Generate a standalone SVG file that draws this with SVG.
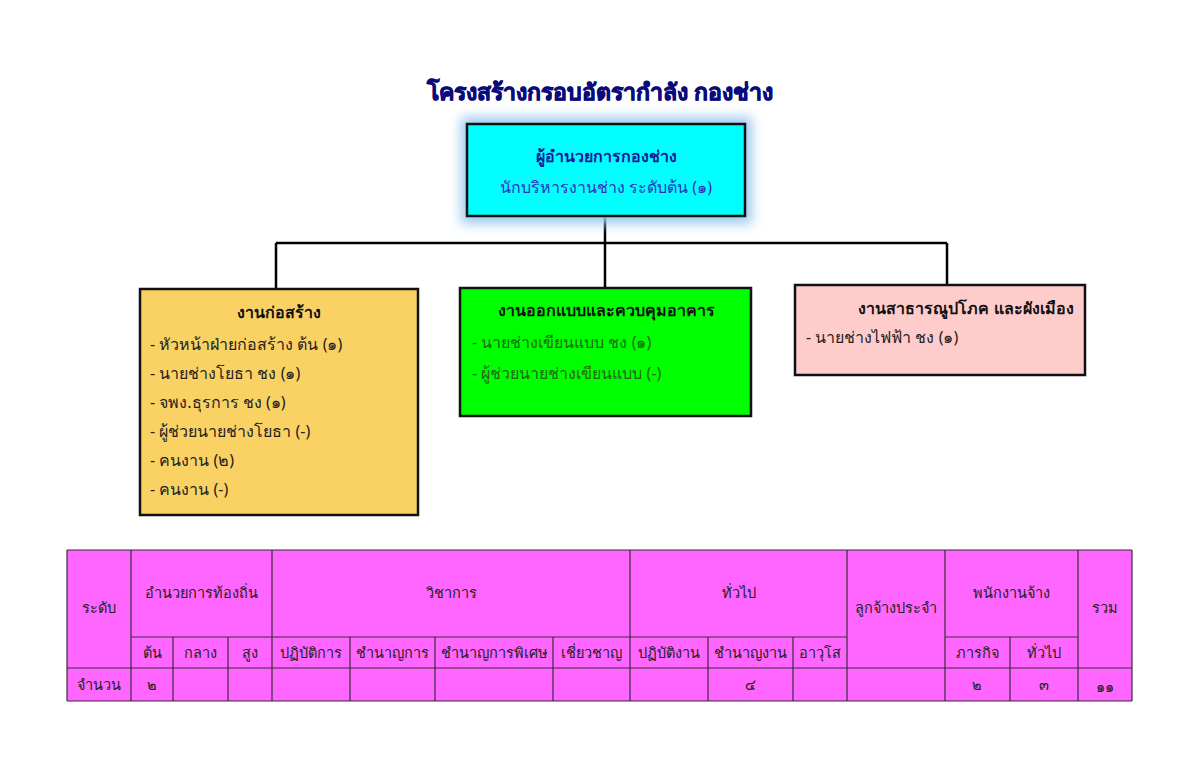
<svg xmlns="http://www.w3.org/2000/svg" width="1200" height="769" viewBox="0 0 1200 769">
<defs>
<filter id="glow" x="-20%" y="-30%" width="140%" height="160%"><feGaussianBlur stdDeviation="6"/></filter>
<style>
text{font-family:"Noto Sans","DejaVu Sans",sans-serif;}
.title{font-size:23px;font-weight:900;fill:#0a0a7a;stroke:#0a0a7a;stroke-width:0.8;text-anchor:middle;}
.box{stroke:#111;stroke-width:2.5;}
.hd{font-size:16px;font-weight:bold;text-anchor:middle;fill:#111;}
.it{font-size:16px;fill:#222;}
.conn{stroke:#000;stroke-width:2.5;fill:none;}
.tbl rect{fill:#ff66ff;}
.tbl line{stroke:#3a2a3a;stroke-width:1.2;}
.tt{font-size:14.5px;text-anchor:middle;fill:#222;}
</style>
</defs>
<rect width="1200" height="769" fill="#fff"/>
<text class="title" x="600" y="100">โครงสร้างกรอบอัตรากำลัง กองช่าง</text>

<g id="connectors">
<path class="conn" d="M605 217V243M276 243H947M276 243V289M605 243V288M947 243V285"/>
</g>

<g id="director">
<rect x="461" y="117" width="291" height="107" fill="#9fcbee" filter="url(#glow)"/>
<rect class="box" x="467" y="124" width="278" height="92" fill="#00ffff"/>
<text class="hd" x="606" y="162" style="fill:#1a1a9a">ผู้อำนวยการกองช่าง</text>
<text x="606" y="193" font-size="16" text-anchor="middle" fill="#3030c0">นักบริหารงานช่าง ระดับต้น (๑)</text>
</g>

<g id="construction">
<rect class="box" x="140" y="289" width="278" height="226" fill="#fad264"/>
<text class="hd" x="279" y="318">งานก่อสร้าง</text>
<text class="it" x="150" y="350">- หัวหน้าฝ่ายก่อสร้าง ต้น (๑)</text>
<text class="it" x="150" y="379">- นายช่างโยธา ชง (๑)</text>
<text class="it" x="150" y="408">- จพง.ธุรการ ชง (๑)</text>
<text class="it" x="150" y="437">- ผู้ช่วยนายช่างโยธา (-)</text>
<text class="it" x="150" y="466">- คนงาน (๒)</text>
<text class="it" x="150" y="495">- คนงาน (-)</text>
</g>

<g id="design">
<rect class="box" x="460" y="288" width="291" height="128" fill="#00ff00"/>
<text class="hd" x="606" y="316">งานออกแบบและควบคุมอาคาร</text>
<text class="it" x="472" y="348" style="fill:#1f6a12">- นายช่างเขียนแบบ ชง (๑)</text>
<text class="it" x="472" y="379" style="fill:#1f6a12">- ผู้ช่วยนายช่างเขียนแบบ (-)</text>
</g>

<g id="utilities">
<rect class="box" x="795" y="285" width="290" height="90" fill="#ffcccc"/>
<text class="hd" x="966" y="314">งานสาธารณูปโภค และผังเมือง</text>
<text class="it" x="806" y="343">- นายช่างไฟฟ้า ชง (๑)</text>
</g>

<g id="table" class="tbl">
<rect x="67" y="550" width="1065" height="151"/>
<line x1="67" y1="550" x2="1132" y2="550"/>
<line x1="67" y1="701" x2="1132" y2="701"/>
<line x1="67" y1="550" x2="67" y2="701"/>
<line x1="1132" y1="550" x2="1132" y2="701"/>
<line x1="131" y1="637" x2="847" y2="637"/>
<line x1="945" y1="637" x2="1078" y2="637"/>
<line x1="67" y1="668" x2="1132" y2="668"/>
<line x1="131" y1="550" x2="131" y2="701"/>
<line x1="272" y1="550" x2="272" y2="701"/>
<line x1="630" y1="550" x2="630" y2="701"/>
<line x1="847" y1="550" x2="847" y2="701"/>
<line x1="945" y1="550" x2="945" y2="701"/>
<line x1="1078" y1="550" x2="1078" y2="701"/>
<line x1="173" y1="637" x2="173" y2="701"/>
<line x1="228" y1="637" x2="228" y2="701"/>
<line x1="350" y1="637" x2="350" y2="701"/>
<line x1="435" y1="637" x2="435" y2="701"/>
<line x1="553" y1="637" x2="553" y2="701"/>
<line x1="708" y1="637" x2="708" y2="701"/>
<line x1="793" y1="637" x2="793" y2="701"/>
<line x1="1010" y1="637" x2="1010" y2="701"/>
<text class="tt" x="99" y="613">ระดับ</text>
<text class="tt" x="201" y="598">อำนวยการท้องถิ่น</text>
<text class="tt" x="451" y="598">วิชาการ</text>
<text class="tt" x="739" y="598">ทั่วไป</text>
<text class="tt" x="896" y="613">ลูกจ้างประจำ</text>
<text class="tt" x="1011" y="598">พนักงานจ้าง</text>
<text class="tt" x="1105" y="613">รวม</text>
<text class="tt" x="152" y="658">ต้น</text>
<text class="tt" x="200" y="658">กลาง</text>
<text class="tt" x="250" y="658">สูง</text>
<text class="tt" x="311" y="658">ปฏิบัติการ</text>
<text class="tt" x="392" y="658">ชำนาญการ</text>
<text class="tt" x="494" y="658">ชำนาญการพิเศษ</text>
<text class="tt" x="591" y="658">เชี่ยวชาญ</text>
<text class="tt" x="669" y="658">ปฏิบัติงาน</text>
<text class="tt" x="750" y="658">ชำนาญงาน</text>
<text class="tt" x="820" y="658">อาวุโส</text>
<text class="tt" x="977" y="658">ภารกิจ</text>
<text class="tt" x="1044" y="658">ทั่วไป</text>
<text class="tt" x="99" y="690">จำนวน</text>
<text class="tt" x="152" y="690">๒</text>
<text class="tt" x="750" y="690">๔</text>
<text class="tt" x="977" y="690">๒</text>
<text class="tt" x="1044" y="690">๓</text>
<text class="tt" x="1105" y="692">๑๑</text>
</g>
</svg>
